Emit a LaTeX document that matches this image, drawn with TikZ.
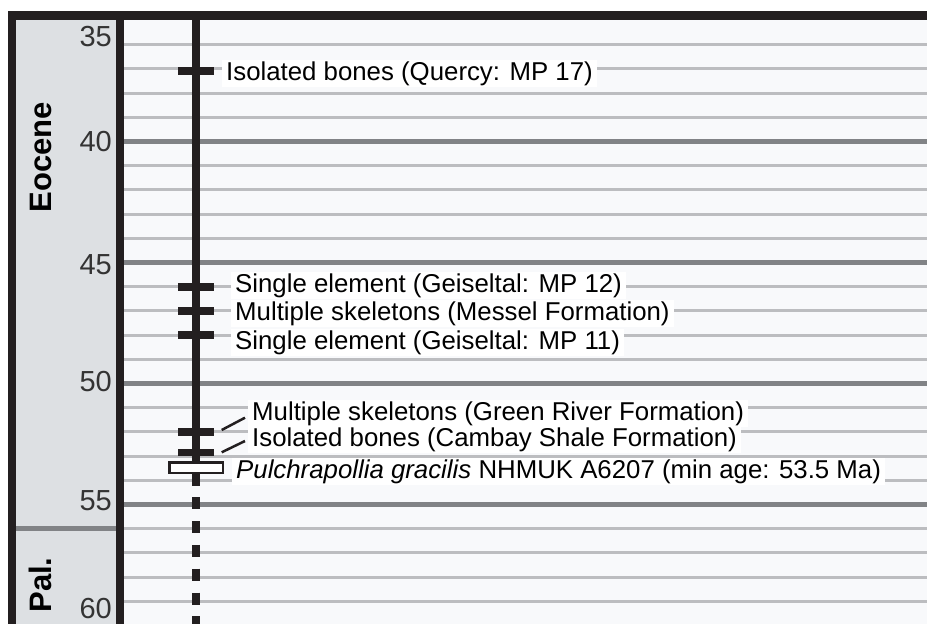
\documentclass[tikz,border=0pt]{standalone}
\usepackage{fontspec}
\setmainfont{Liberation Sans}
\usetikzlibrary{calc}
\definecolor{panel}{HTML}{F8F9FB}
\definecolor{colfill}{HTML}{DDE0E3}
\definecolor{minorc}{HTML}{BCBDC0}
\definecolor{majorc}{HTML}{818386}
\definecolor{numgray}{HTML}{333333}
\definecolor{ink}{HTML}{231F20}
\tikzset{
  minorline/.style={draw=minorc, line width=3pt},
  majorline/.style={draw=majorc, line width=5pt},
  agenum/.style={anchor=east, text=numgray, inner sep=0pt, font=\fontsize{29}{33}\selectfont},
  eralab/.style={rotate=90, text=black, inner sep=0pt, font=\bfseries\fontsize{31}{35}\selectfont},
  ticknode/.style={rectangle, fill=ink, minimum width=36pt, minimum height=7.5pt, inner sep=0pt},
  holobox/.style={rectangle, draw=ink, line width=2.5pt, fill=white, minimum width=53.5pt, minimum height=10.5pt, inner sep=0pt},
  lab/.style={anchor=west, fill=white, text=black, inner xsep=4pt, inner ysep=1pt, font=\fontsize{25.8}{30}\selectfont},
  leader/.style={draw=ink, line width=2.5pt},
  timeline/.style={draw=ink, line width=8pt}
}
\begin{document}
\begin{tikzpicture}[x=1pt,y=-1pt]
\useasboundingbox (0,0) rectangle (927,624);
\fill[white] (0,0) rectangle (927,624);
% panels
\fill[colfill] (15,20) rectangle (117,624);
\fill[panel] (123,20) rectangle (927,624);
% grid lines (1 Ma)
\foreach \a in {36,...,59} {
  \pgfmathsetmacro\yy{141.5+(\a-40)*24.2}
  \draw[minorline] (123,\yy) -- (927,\yy);
}
% grid lines (5 Ma)
\foreach \a in {40,45,50,55} {
  \pgfmathsetmacro\yy{141.5+(\a-40)*24.2}
  \draw[majorline] (123,\yy) -- (927,\yy);
}
% Eocene / Paleocene boundary in the epoch column
\draw[majorline] (15,528.7) -- (117,528.7);
% frame
\fill[ink] (8,11) rectangle (927,20);
\fill[ink] (8,11) rectangle (15.5,624);
\fill[ink] (116,11) rectangle (123.5,624);
% age numbers
\node[agenum] (n35) at (112,37) {35};
\node[agenum] (n40) at (112,142) {40};
\node[agenum] (n45) at (112,265) {45};
\node[agenum] (n50) at (112,382) {50};
\node[agenum] (n55) at (112,501) {55};
\node[agenum] (n60) at (112,609) {60};
% epochs
\node[eralab] (eocene) at (41,157) {Eocene};
\node[eralab] (pal) at (40,585) {Pal.};
% timeline
\coordinate (ltop) at (196,20);
\coordinate (hcen) at (196,467.5);
\coordinate (hbot) at (196,473.5);
\coordinate (lbot) at (196,630);
\draw[timeline] (ltop) -- (hcen);
\draw[timeline, dash pattern=on 12pt off 11.8pt] (hbot) -- (lbot);
% ticks
\node[ticknode] (tq) at (196,71) {};
\node[ticknode] (tg12) at (196,287) {};
\node[ticknode] (tme) at (196,311) {};
\node[ticknode] (tg11) at (196,335) {};
\node[ticknode] (tgr) at (196,432) {};
\node[ticknode] (tcb) at (196,452.5) {};
\node[holobox] (holo) at (hcen) {};
% labels
\node[lab] (lq) at (222,73.5) {Isolated bones (Quercy: MP 17)};
\node[lab] (lg12) at (231,285.5) {Single element (Geiseltal: MP 12)};
\node[lab] (lme) at (231,313.5) {Multiple skeletons (Messel Formation)};
\node[lab] (lg11) at (231,342.5) {Single element (Geiseltal: MP 11)};
\node[lab] (lgr) at (248,413.5) {Multiple skeletons (Green River Formation)};
\node[lab] (lcb) at (248,439.5) {Isolated bones (Cambay Shale Formation)};
\node[lab] (lpu) at (232,471.5) {\itshape Pulchrapollia gracilis\upshape{} NHMUK A6207 (min age: 53.5 Ma)};
% leaders
\coordinate (gr1) at (221.7,430);
\coordinate (gr2) at (245,417.7);
\coordinate (cb1) at (221.7,452.3);
\coordinate (cb2) at (245,441);
\draw[leader] (gr1) -- (gr2);
\draw[leader] (cb1) -- (cb2);
\end{tikzpicture}
\end{document}
